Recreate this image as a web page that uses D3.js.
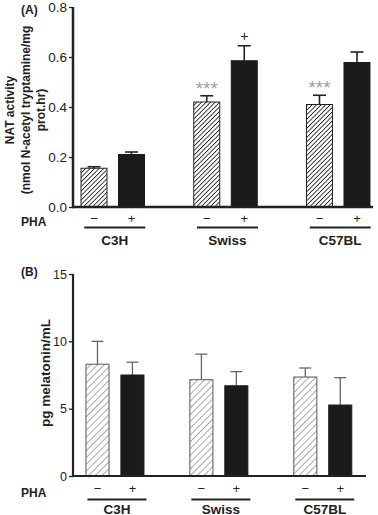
<!DOCTYPE html>
<html><head><meta charset="utf-8">
<script src="https://cdn.jsdelivr.net/npm/d3@7"></script>
<style>body{margin:0;background:#fff}svg{display:block}text{font-family:"Liberation Sans",Arial,sans-serif}</style>
</head><body><svg id="c" width="378" height="515"></svg>
<script>
const groups = ["C3H", "Swiss", "C57BL"];
const treatments = ["−", "+"];
// Panel A: NAT activity
const natMeans = [[0.155, 0.21], [0.42, 0.585], [0.41, 0.578]];
const natErrs  = [[0.006, 0.01], [0.025, 0.06], [0.037, 0.042]];
const natTicks = [0, 0.2, 0.4, 0.6, 0.8];
const natMarks = [["", ""], ["***", "+"], ["***", ""]];
// Panel B: melatonin
const melMeans = [[8.3, 7.5], [7.15, 6.7], [7.35, 5.27]];
const melErrs  = [[1.7, 0.95], [1.9, 1.05], [0.67, 2.03]];
const melTicks = [0, 5, 10, 15];

const svg = d3.select("#c");
const defs = svg.append("defs");
function hatch(id, gap, sw, col){
  const p = defs.append("pattern").attr("id", id).attr("patternUnits","userSpaceOnUse")
    .attr("width", gap).attr("height", gap).attr("patternTransform","rotate(45)");
  p.append("rect").attr("width", gap).attr("height", gap).attr("fill","#fff");
  p.append("line").attr("x1",0).attr("y1",0).attr("x2",0).attr("y2",gap)
    .attr("stroke", col).attr("stroke-width", sw);
}
hatch("hA", 3.2, 1.7, "#1e1e1e");
hatch("hB", 4.8, 1, "#555");

function panel(o){
  const g = svg.append("g");
  const y = d3.scaleLinear().domain(o.domain).range([o.y0, o.y1]);
  const xg = d3.scaleBand().domain(groups).range(o.xr).padding(0);
  const xi = d3.scaleBand().domain(treatments).range([0, o.inner]).paddingInner(o.pin).paddingOuter(0);
  const bx = (gi, t) => xg(groups[gi]) + xg.bandwidth()/2 - o.inner/2 + xi(t);

  // y axis
  const ax = g.append("g").attr("transform", `translate(${o.ax},0)`)
    .call(d3.axisLeft(y).tickValues(o.ticks).tickFormat(o.fmt).tickSize(4).tickPadding(2));
  ax.select(".domain").remove();
  ax.selectAll(".tick line").attr("stroke","#222").attr("stroke-width",1.3);
  ax.selectAll(".tick text").attr("font-size", o.tickFs).attr("fill","#222");
  g.append("line").attr("x1",o.ax).attr("x2",o.ax).attr("y1",y(o.domain[1])).attr("y2",y(0)+o.aw/2)
    .attr("stroke","#222").attr("stroke-width",o.aw);

  // bars
  o.means.forEach((pair, gi) => pair.forEach((v, ti) => {
    const t = treatments[ti];
    const x = bx(gi, t), w = xi.bandwidth();
    const cx = x + w/2;
    const top = y(v + o.errs[gi][ti]);
    g.append("line").attr("x1",cx).attr("x2",cx).attr("y1",y(v)).attr("y2",top)
      .attr("stroke",o.ecol).attr("stroke-width",o.ew);
    g.append("line").attr("x1",cx-o.cap/2).attr("x2",cx+o.cap/2).attr("y1",top).attr("y2",top)
      .attr("stroke",o.ecol).attr("stroke-width",o.ew);
    g.append("rect").attr("x",x).attr("y",y(v)).attr("width",w).attr("height",y(0)-y(v))
      .attr("fill", ti === 0 ? `url(#${o.hatch})` : "#1b1b1b")
      .attr("stroke", ti === 0 ? o.ocol : "#1b1b1b").attr("stroke-width",1);
    if (o.marks && o.marks[gi][ti]) {
      const m = o.marks[gi][ti];
      const plus = m === "+";
      g.append("text").attr("x",cx).attr("y", top - (plus ? 5 : 1))
        .attr("text-anchor","middle").attr("font-size", plus ? 14 : 19)
        .attr("fill", plus ? "#222" : "#a0a0a0").text(m);
    }
    // treatment labels
    g.append("text").attr("x",cx).attr("y",o.pmY).attr("text-anchor","middle")
      .attr("font-size",13).attr("fill","#222").text(t);
  }));
  // baseline
  g.append("line").attr("x1",o.ax).attr("x2",o.xend).attr("y1",y(0)).attr("y2",y(0))
    .attr("stroke","#222").attr("stroke-width",o.aw);
  // group underlines & labels
  groups.forEach(gn => {
    const c = xg(gn) + xg.bandwidth()/2 + o.goff;
    g.append("line").attr("x1",c-o.ul/2).attr("x2",c+o.ul/2).attr("y1",o.ulY).attr("y2",o.ulY)
      .attr("stroke","#222").attr("stroke-width",2);
    g.append("text").attr("x",c).attr("y",o.gY).attr("text-anchor","middle")
      .attr("font-size",13.5).attr("font-weight","bold").attr("fill","#222").text(gn);
  });
  g.append("text").attr("x",o.phaX).attr("y",o.phaY).attr("font-size",12)
    .attr("font-weight","bold").attr("fill","#222").text("PHA");
  g.append("text").attr("x",21).attr("y",o.tagY).attr("font-size",12)
    .attr("font-weight","bold").attr("fill","#222").text(o.tag);
  o.ylab.forEach((s, i) => {
    g.append("text").attr("transform",`translate(${o.ylabX[i]},${o.ylabY}) rotate(-90)`)
      .attr("text-anchor","middle").attr("dominant-baseline","central")
      .attr("font-size",o.ylabFs).attr("font-weight","bold").attr("fill","#222").text(s);
  });
}

panel({domain:[0,0.8], y0:207, y1:7, ticks:natTicks, fmt:d3.format(".1f"), tickFs:13.5,
  ax:73, aw:2.5, xr:[56.4, 394.6], inner:63.5, pin:0.307, xend:373,
  means:natMeans, errs:natErrs, marks:natMarks, hatch:"hA", ocol:"#222",
  ecol:"#222", ew:1.6, cap:13, pmY:223, phaY:226, phaX:21, ulY:227.5, ul:61, goff:2, gY:245,
  tag:"(A)", tagY:14, ylab:["NAT activity","(nmol N-acetyl tryptamine/mg","prot.hr)"],
  ylabX:[9.5,25.5,41], ylabY:110, ylabFs:12});

panel({domain:[0,15], y0:476, y1:274, ticks:melTicks, fmt:d3.format("d"), tickFs:12.5,
  ax:73, aw:2.2, xr:[63, 374.75], inner:58, pin:0.34, xend:366,
  means:melMeans, errs:melErrs, marks:null, hatch:"hB", ocol:"#555",
  ecol:"#666", ew:1.3, cap:12, pmY:493, phaY:497, phaX:21, ulY:499.5, ul:59, goff:2, gY:513.5,
  tag:"(B)", tagY:276, ylab:["pg melatonin/mL"], ylabX:[45], ylabY:373, ylabFs:13.5});
</script></body></html>
